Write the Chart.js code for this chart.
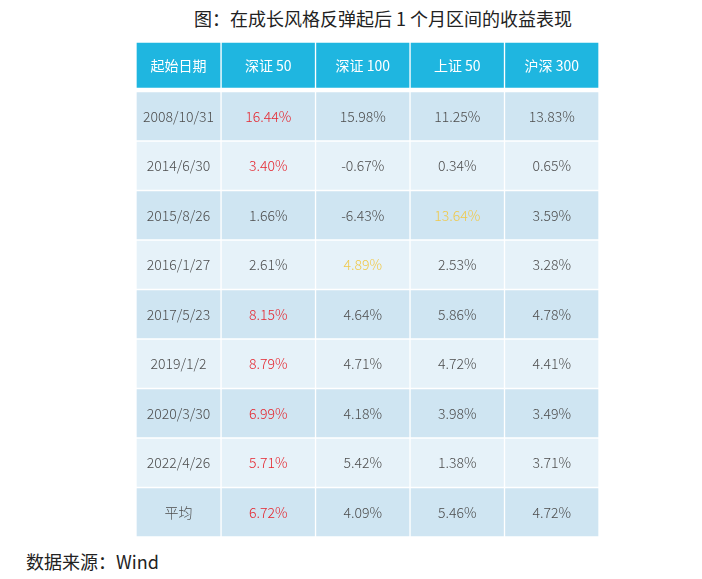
<!DOCTYPE html>
<html>
<head>
<meta charset="utf-8">
<script src="https://cdn.jsdelivr.net/npm/chart.js@4"></script>
<style>
  body { margin: 0; background: #fff; width: 702px; height: 579px; position: relative; overflow: hidden;
         font-family: "Noto Sans CJK SC", "Noto Sans", sans-serif; }
  #title { position: absolute; left: 0; width: 766px; top: 5px; text-align: center; font-size: 18px; color: #222; font-weight: 400; }
  #source { position: absolute; left: 26px; top: 548px; font-size: 18px; color: #222; font-weight: 400; }
  #box { position: absolute; left: 136px; top: 42px; width: 463px; height: 495px; }
</style>
</head>
<body>
<div id="title">图：在成长风格反弹起后 1 个月区间的收益表现</div>
<div id="box"><canvas id="myChart"></canvas></div>
<div id="source">数据来源：Wind</div>
<script>
// data ===============================================================
const headers = ['起始日期', '深证 50', '深证 100', '上证 50', '沪深 300'];
const dates = ['2008/10/31', '2014/6/30', '2015/8/26', '2016/1/27', '2017/5/23', '2019/1/2', '2020/3/30', '2022/4/26', '平均'];
const sz50 = [16.44, 3.40, 1.66, 2.61, 8.15, 8.79, 6.99, 5.71, 6.72];
const sz100 = [15.98, -0.67, -6.43, 4.89, 4.64, 4.71, 4.18, 5.42, 4.09];
const sh50 = [11.25, 0.34, 13.64, 2.53, 5.86, 4.72, 3.98, 1.38, 5.46];
const hs300 = [13.83, 0.65, 3.59, 3.28, 4.78, 4.41, 3.49, 3.71, 4.72];

// layout ===============================================================
const colWidths = [0.9, 1, 1, 1, 1]; // date column is a bit narrower
const edges = [0];
colWidths.forEach(w => edges.push(edges[edges.length - 1] + w));

const series = [sz50, sz100, sh50, hs300];
const rowLabels = [headers[0]].concat(dates);

function cellText(c, r) {
    if (r === 0) return headers[c];
    if (c === 0) return dates[r - 1];
    return series[c - 1][r - 1].toFixed(2) + '%';
}
function cellColor(c, r) {
    if (r === 0) return '#ffffff';
    if (c === 0) return '#4d4d4d';
    let vals = series.map(s => s[r - 1]);
    let maxIdx = vals.indexOf(Math.max(...vals));
    if (maxIdx === c - 1) return maxIdx === 0 ? '#e5262f' : '#f0c94a';
    return '#4d4d4d';
}
function fillColor(r) {
    if (r === 0) return '#1fb6e0';
    return (r % 2 === 1) ? '#cfe5f2' : '#e6f2f9';
}

// chart ===============================================================
const cellLabels = {
    id: 'cellLabels',
    afterDatasetsDraw(chart) {
        const ctx = chart.ctx;
        ctx.save();
        ctx.textAlign = 'center';
        ctx.textBaseline = 'middle';
        chart.data.datasets.forEach((ds, c) => {
            chart.getDatasetMeta(c).data.forEach((bar, r) => {
                const p = bar.getCenterPoint();
                ctx.font = (r === 0 ? '400' : '300') + ' 14px "Noto Sans CJK SC", "Noto Sans", sans-serif';
                ctx.fillStyle = cellColor(c, r);
                ctx.fillText(cellText(c, r), p.x, p.y - (r === 0 ? 1 : 0));
            });
        });
        ctx.restore();
    }
};

let datasets = headers.map((h, c) => ({
    label: h,
    data: rowLabels.map(() => [edges[c], edges[c + 1]]),
    backgroundColor: rowLabels.map((l, r) => fillColor(r)),
    borderColor: '#ffffff',
    borderWidth: (ctx) => ctx.dataIndex === 0 ? { top: 1, left: 1, right: 1, bottom: 4 } : 1,
    borderSkipped: false,
    grouped: false,
    barPercentage: 1,
    categoryPercentage: 1,
}));

new Chart(document.getElementById('myChart'), {
    type: 'bar',
    data: { labels: rowLabels, datasets: datasets },
    options: {
        indexAxis: 'y',
        responsive: true,
        maintainAspectRatio: false,
        animation: false,
        layout: { padding: 0 },
        plugins: { legend: { display: false }, tooltip: { enabled: false } },
        scales: {
            x: { type: 'linear', min: 0, max: edges[edges.length - 1], display: false },
            y: { type: 'category', display: false },
        },
    },
    plugins: [cellLabels]
});
</script>
</body>
</html>
